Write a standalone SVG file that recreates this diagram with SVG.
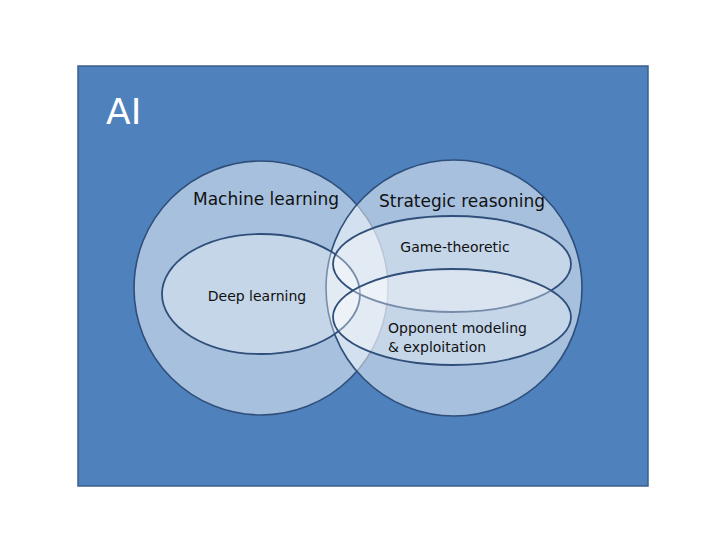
<svg xmlns="http://www.w3.org/2000/svg" width="720" height="540" viewBox="0 0 720 540">
<style>
.c{fill:#ffffff;fill-opacity:0.5;stroke:#2f4f7a;stroke-width:1.6}
.e{fill:#ffffff;fill-opacity:0.35;stroke:#2f4f7a;stroke-width:1.8}
text{font-family:"DejaVu Sans",Verdana,sans-serif;fill:#111}
</style>
<rect width="720" height="540" fill="#ffffff"/>
<g id="ai"><rect x="78" y="66" width="570" height="420" fill="#4f81bd" stroke="#3a5f8c" stroke-width="1.5"/>
<text x="106" y="124" font-size="36" style="fill:#fff" font-family="Lato,sans-serif">AI</text></g>
<g id="ml"><circle class="c" cx="261" cy="288" r="127"/><text x="266" y="205" font-size="17" text-anchor="middle">Machine learning</text></g>
<g id="sr"><circle class="c" cx="454" cy="288" r="128"/><text x="462" y="207" font-size="17" text-anchor="middle">Strategic reasoning</text></g>
<g id="dl"><ellipse class="e" cx="261" cy="294" rx="99" ry="60"/><text x="257" y="301" font-size="14" text-anchor="middle">Deep learning</text></g>
<g id="gt"><ellipse class="e" cx="452" cy="264" rx="119" ry="48"/><text x="455" y="252" font-size="14" text-anchor="middle">Game-theoretic</text></g>
<g id="om"><ellipse class="e" cx="452" cy="317" rx="119" ry="48"/><text x="388" y="333" font-size="14">Opponent modeling</text><text x="388" y="352" font-size="14">&amp; exploitation</text></g>
<g id="connectors"/>
</svg>
